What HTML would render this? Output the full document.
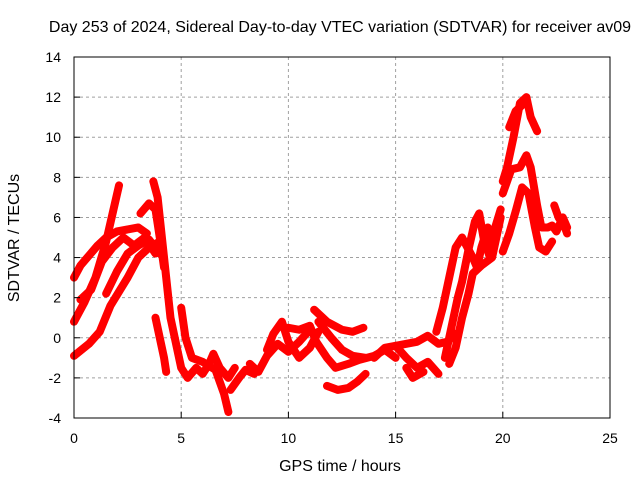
<!DOCTYPE html>
<html><head><meta charset="utf-8"><style>
body{margin:0;background:#fff}
svg text{font-family:"Liberation Sans",sans-serif;font-size:14px;fill:#000}
svg text.big{font-size:16px}
</style></head><body>
<svg id="chart" width="640" height="480" xmlns="http://www.w3.org/2000/svg">
<rect width="640" height="480" fill="#fff"/>
<g id="grid"></g>
<g id="series"></g>
<rect x="74" y="57" width="536" height="361" fill="none" stroke="#000" stroke-width="1"/>
<g id="ticks"></g>
<text class="big" x="340" y="32" text-anchor="middle">Day 253 of 2024, Sidereal Day-to-day VTEC variation (SDTVAR) for receiver av09</text>
<text class="big" x="340" y="471" text-anchor="middle">GPS time / hours</text>
<text class="big" transform="translate(19,238) rotate(-90)" text-anchor="middle">SDTVAR / TECUs</text>
</svg>
<script>
const xTicks=[0,5,10,15,20,25];
const yTicks=[-4,-2,0,2,4,6,8,10,12,14];
const tracks=[
[[0,3],[0.3,3.6],[0.7,4.1],[1.1,4.6],[1.5,5.0],[2,5.3],[2.5,5.4],[3,5.5],[3.4,5.2]],
[[0,0.8],[0.5,1.8],[1,3],[1.5,4.8],[1.8,6.2],[2.1,7.6]],
[[0,-0.9],[0.7,-0.3],[1.2,0.3],[1.7,1.6],[2.5,3],[3,4],[3.5,4.5],[4,4.8]],
[[0.3,1.9],[0.8,2.4],[1.3,3.8],[1.8,4.5],[2.3,5],[2.8,4.6],[3.3,5.0],[3.8,4.2]],
[[1.5,2.2],[2,3.3],[2.5,4.2],[3,4.6],[3.5,4.9],[4,4.2]],
[[3.7,7.8],[3.9,7],[4.1,5],[4.3,3],[4.5,1],[4.7,0],[5,-1.5],[5.3,-2],[5.7,-1.5],[6,-1.8],[6.3,-1.3],[6.5,-0.8],[6.8,-1.5],[7.2,-2],[7.5,-1.5]],
[[3.8,1],[4.0,0],[4.2,-1],[4.3,-1.7]],
[[5,1.5],[5.2,0],[5.5,-1],[6,-1.2],[6.6,-1.6],[7,-2.8],[7.2,-3.7]],
[[3.1,6.2],[3.5,6.7],[3.8,6.4],[4.0,5],[4.2,3.5]],
[[7.3,-2.6],[7.7,-2],[8,-1.6],[8.4,-1.8]],
[[8.2,-1.3],[8.6,-1.7],[9,-0.9],[9.5,-0.3],[10,-0.7],[10.5,-0.2],[11,0.4]],
[[9,-0.6],[9.3,0.2],[9.7,0.8],[10,-0.2],[10.5,-1],[11,-0.5],[11.4,0.3]],
[[10,0.5],[10.5,0.4],[11,0.6],[11.3,-0.2],[11.8,-1],[12.2,-1.5],[12.8,-1.3],[13.3,-1.1],[14,-0.9],[14.5,-0.6],[15,-1]],
[[11.2,1.4],[11.8,0.8],[12.5,0.4],[13,0.3],[13.5,0.5]],
[[11.4,0.8],[12,0],[12.5,-0.6],[13,-0.9],[13.6,-1]],
[[11.8,-2.4],[12.3,-2.6],[12.8,-2.5],[13.2,-2.2],[13.6,-1.8]],
[[14,-1],[14.5,-0.5],[15,-0.4],[15.5,-0.3],[16,-0.2],[16.5,0.1],[17,-0.3],[17.4,-0.2],[17.8,0.2]],
[[15,-0.4],[15.5,-1],[16,-1.5],[16.5,-1.2],[17,-1.8]],
[[15.5,-1.5],[15.8,-2],[16.3,-1.7]],
[[16.9,0.3],[17.2,1.5],[17.5,3],[17.8,4.5],[18.1,5],[18.3,4.6],[18.6,4],[18.8,3.5],[19,4.5],[19.3,5.5]],
[[17.3,-1],[17.6,0.5],[17.9,2],[18.1,2.8],[18.4,4.4],[18.7,5.8],[18.9,6.2],[19.1,5],[19.4,4],[19.5,5],[19.9,6.4]],
[[17.5,-1.3],[17.8,-0.5],[18.1,1],[18.4,2.2],[18.6,3.2],[19,3.6],[19.5,4],[19.7,5],[19.9,6]],
[[20,7.8],[20.2,8.5],[20.5,10],[20.8,11.7],[21.1,12],[21.3,11],[21.6,10.3]],
[[20.3,10.5],[20.6,11.3],[21,11.7]],
[[20,7.2],[20.4,8.4],[20.8,8.5],[21.1,9.1],[21.3,8.5],[21.6,6.6],[21.8,5.5],[22.1,5.5],[22.3,5.6],[22.5,5.3],[22.8,6.0],[23,5.5]],
[[20,4.3],[20.3,5.2],[20.6,6.3],[20.9,7.5],[21.2,7.2],[21.5,5.5],[21.7,4.5],[22,4.3],[22.3,4.8]],
[[22.4,6.6],[22.6,6],[22.9,5.5],[23,5.2]]
];
const X=h=>74+h*(536/25);
const Y=v=>418-(v+4)*(361/18);
const NS="http://www.w3.org/2000/svg";
const grid=document.getElementById('grid'),ticks=document.getElementById('ticks'),ser=document.getElementById('series');
function mk(tag,at,parent){const e=document.createElementNS(NS,tag);for(const k in at)e.setAttribute(k,at[k]);parent.appendChild(e);return e;}
xTicks.forEach(t=>{
  const x=X(t);
  if(t>0&&t<25){const g=mk('line',{x1:x,x2:x,y1:57,y2:418,stroke:'#a0a0a0','stroke-dasharray':'3,3'},grid);
  
  }
  const l=mk('text',{x:x,y:443,'text-anchor':'middle'},ticks);l.textContent=t;
  
  
  mk('line',{x1:x,x2:x,y1:418,y2:412,stroke:'#000'},ticks);
});
yTicks.forEach(t=>{
  const y=Y(t);
  if(t>-4&&t<14){const g=mk('line',{x1:74,x2:610,y1:y,y2:y,stroke:'#a0a0a0','stroke-dasharray':'3,3'},grid);
  
  }
  const l=mk('text',{x:61,y:y+5,'text-anchor':'end'},ticks);l.textContent=t;
  
  
  mk('line',{x1:74,x2:80,y1:y,y2:y,stroke:'#000'},ticks);
});
tracks.forEach(tr=>{
  const p=mk('polyline',{points:tr.map(d=>X(d[0])+','+Y(d[1])).join(' '),fill:'none',stroke:'#ff0000','stroke-width':8,'stroke-linejoin':'round','stroke-linecap':'round'},ser);
  
  
});
</script>
</body></html>
